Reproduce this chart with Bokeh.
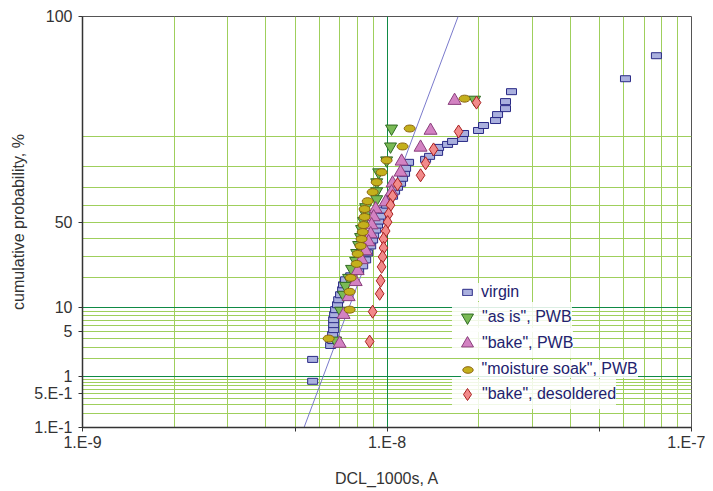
from statistics import NormalDist
from bokeh.plotting import figure
from bokeh.models import Range1d, FixedTicker, Grid, Legend, LegendItem
from bokeh.embed import file_html
from bokeh.resources import INLINE

# ---------------- data (x in nA, y in cumulative %) ----------------
virgin_nA = [5.70, 5.70, 6.53, 6.63, 6.63, 6.68, 6.68, 6.68, 6.73, 6.78, 6.88, 6.94, 7.04, 7.15,
             7.20, 7.31, 7.60, 8.07, 8.32, 8.51, 8.64, 8.84, 8.97, 9.04, 9.18, 9.31, 9.39, 9.53,
             9.74, 9.97, 10.12, 10.43, 10.59, 10.83, 11.08, 11.25, 11.42, 11.51, 11.77, 13.39,
             13.80, 14.66, 14.77, 15.81, 16.42, 17.71, 17.84, 19.98, 20.75, 22.72, 23.07, 24.50,
             24.50, 25.64, 60.7, 76.7]
virgin_pct = [0.83, 1.94, 3.17, 3.73, 4.52, 5.28, 6.14, 7.10, 8.18, 9.37, 10.68, 12.12, 13.70, 15.41,
              17.25, 19.23, 20.91, 23.13, 25.47, 28.43, 32.09, 35.93, 39.33, 42.24, 45.19, 48.16, 50.55, 53.53,
              57.08, 60.00, 62.29, 65.10, 67.83, 69.94, 72.00, 74.45, 76.80, 79.02, 81.52, 82.69,
              83.82, 85.24, 86.90, 87.83, 88.71, 89.55, 90.84, 91.56, 92.66, 93.65, 94.69, 95.59,
              96.49, 97.50, 98.44, 99.38]

asis_nA = [19.39, 10.35, 10.27, 9.97, 9.39, 9.25, 9.25, 9.25, 8.51, 8.51, 8.38, 8.25, 8.19, 8.07,
           7.95, 7.89, 7.65, 7.48, 7.31, 7.20, 7.04, 6.78]
asis_pct = [96.71, 92.01, 87.21, 82.30, 77.26, 72.50, 67.83, 63.43, 58.84, 54.72, 50.55, 45.78, 41.07, 36.49,
            32.09, 27.93, 24.05, 20.06, 16.87, 13.70, 9.12, 3.73]

bake_nA = [16.67, 13.90, 12.89, 11.17, 11.08, 10.43, 10.35, 9.90, 9.18, 9.04, 8.90, 8.84, 8.70, 8.51,
           8.25, 8.01, 7.89, 7.48, 7.20, 6.99]
bake_pct = [96.60, 91.56, 86.90, 81.91, 77.26, 72.00, 67.34, 61.78, 57.73, 53.00, 48.16, 42.83, 38.19, 33.17,
            28.43, 23.13, 18.42, 13.01, 8.18, 3.38]

moist_nA = [17.98, 11.87, 11.25, 9.97, 9.60, 9.25, 8.97, 8.64, 8.44, 8.44, 8.38, 8.32, 8.25, 8.19,
            8.01, 7.95, 7.60, 7.54, 7.54, 6.43]
moist_pct = [96.82, 92.01, 87.21, 82.30, 77.26, 72.50, 67.34, 62.29, 57.73, 53.00, 48.16, 44.00, 39.91, 35.93,
             31.56, 26.44, 20.06, 14.71, 9.37, 3.98]

desold_nA = [19.68, 17.18, 14.22, 13.39, 12.89, 10.83, 10.43, 10.27, 10.12, 10.05, 9.90, 9.74, 9.74, 9.67,
             9.60, 9.53, 9.46, 8.97, 8.77]
desold_pct = [96.37, 91.33, 86.25, 81.12, 75.88, 71.49, 65.10, 60.00, 54.72, 49.96, 44.59, 39.91, 34.81, 29.98,
              24.99, 18.82, 14.03, 8.87, 3.61]

# lognormal fit line (end points)
fit_nA = [5.34, 17.12]
fit_pct = [0.1, 99.9]

x_tick_values = [1e-9, 5e-9, 1e-8, 5e-8, 1e-7]
x_tick_labels = ["1.E-9", "", "1.E-8", "", "1.E-7"]
x_grid_minor = [2e-9, 3e-9, 4e-9, 5e-9, 6e-9, 7e-9, 8e-9, 9e-9,
                2e-8, 3e-8, 4e-8, 5e-8, 6e-8, 7e-8, 8e-8, 9e-8]
x_grid_major = [1e-8]

y_tick_pct = [0.1, 0.5, 1, 5, 10, 50, 99.9]
y_tick_labels = ["1.E-1", "5.E-1", "1", "5", "10", "50", "100"]
y_grid_minor_pct = [0.2, 0.3, 0.4, 0.5, 0.6, 0.7, 0.8, 0.9,
                    2, 3, 4, 5, 6, 7, 8, 9,
                    20, 30, 40, 50, 60, 70, 80, 90]
y_grid_major_pct = [1, 10]
y_limits_pct = [0.1, 99.9]

# ---------------- helpers ----------------
nd = NormalDist()
def probit(pcts):
    return [nd.inv_cdf(v / 100.0) for v in pcts]

def amps(nA):
    return [v * 1e-9 for v in nA]

FONT = "Liberation Sans"
LIGHT = "#9fcf5c"
DARK = "#0f8a45"

ylo, yhi = probit(y_limits_pct)
p = figure(width=705, height=489, x_axis_type="log",
           x_range=Range1d(1e-9, 1e-7),
           y_range=Range1d(ylo - 1e-9, yhi + 1e-9),
           output_backend="svg", toolbar_location=None,
           min_border_left=82, min_border_right=14, min_border_top=16, min_border_bottom=60)
p.background_fill_color = "white"
p.outline_line_color = "#555555"
p.outline_line_width = 1
p.xgrid.visible = False
p.ygrid.visible = False

# grids
p.add_layout(Grid(dimension=0, ticker=FixedTicker(ticks=x_grid_minor), grid_line_color=LIGHT, grid_line_width=1))
p.add_layout(Grid(dimension=1, ticker=FixedTicker(ticks=probit(y_grid_minor_pct)), grid_line_color=LIGHT, grid_line_width=1))
p.add_layout(Grid(dimension=0, ticker=FixedTicker(ticks=x_grid_major), grid_line_color=DARK, grid_line_width=1))
p.add_layout(Grid(dimension=1, ticker=FixedTicker(ticks=probit(y_grid_major_pct)), grid_line_color=DARK, grid_line_width=1))

# axes
xa = p.xaxis[0]
xa.ticker = FixedTicker(ticks=x_tick_values)
xa.major_label_overrides = {v: l for v, l in zip(x_tick_values, x_tick_labels)}
xa.minor_tick_line_color = None
xa.major_tick_out = 4
xa.major_tick_in = 0
xa.major_label_standoff = 2
xa.axis_label = "DCL_1000s, A"
xa.axis_label_standoff = 16
ya = p.yaxis[0]
yt = probit(y_tick_pct)
ya.ticker = FixedTicker(ticks=yt)
ya.major_label_overrides = {v: l for v, l in zip(yt, y_tick_labels)}
ya.minor_tick_line_color = None
ya.major_tick_out = 4
ya.major_tick_in = 0
ya.major_label_standoff = 6
ya.axis_label = "cumulative probability, %"
ya.axis_label_standoff = 4
for ax in (xa, ya):
    ax.axis_line_color = "#333333"
    ax.axis_line_width = 1.5
    ax.major_tick_line_color = "#333333"
    ax.major_label_text_font = FONT
    ax.major_label_text_font_size = "16px"
    ax.major_label_text_color = "#333333"
    ax.axis_label_text_font = FONT
    ax.axis_label_text_font_size = "16px"
    ax.axis_label_text_font_style = "normal"
    ax.axis_label_text_color = "#333333"

# fit line
p.line(amps(fit_nA), probit(fit_pct), line_color="#7a7acc", line_width=1)

# series
r_v = p.rect(x=amps(virgin_nA), y=probit(virgin_pct), width=10, height=6,
             width_units="screen", height_units="screen",
             fill_color="#aab0de", line_color="#2a2a86", line_width=1)
r_a = p.scatter(x=amps(asis_nA), y=probit(asis_pct), marker="inverted_triangle", size=12,
                fill_color="#7aba55", line_color="#2e6a22", line_width=1)
r_b = p.scatter(x=amps(bake_nA), y=probit(bake_pct), marker="triangle", size=13,
                fill_color="#d382c2", line_color="#8a3f7c", line_width=1)
r_m = p.ellipse(x=amps(moist_nA), y=probit(moist_pct), width=11, height=7,
                width_units="screen", height_units="screen",
                fill_color="#c4b01c", line_color="#8a6410", line_width=1)
r_d = p.scatter(x=amps(desold_nA), y=probit(desold_pct), marker="diamond", size=13,
                fill_color="#f28a8a", line_color="#a82020", line_width=1)

# legends (one per entry so each symbol keeps its own size)
FRAME_LEFT = 82
FRAME_BOTTOM = 429
GLYPH_CX = 467
TEXT_X = 481
rows = [
    ("virgin", r_v, 12, 8, 293),
    ('"as is", PWB', r_a, 30, 30, 318.5),
    ('"bake", PWB', r_b, 30, 30, 344.5),
    ('"moisture soak", PWB', r_m, 13, 13, 370.5),
    ('"bake", desoldered', r_d, 30, 30, 396),
]
for label, r, gw, gh, cy in rows:
    h = max(gh, 19)
    lx = GLYPH_CX - gw / 2 - FRAME_LEFT
    vy = FRAME_BOTTOM - cy - h / 2
    leg = Legend(items=[LegendItem(label=label, renderers=[r])],
                 location=(lx, vy), glyph_width=gw, glyph_height=gh, label_height=gh,
                 label_standoff=int(round(TEXT_X - GLYPH_CX - gw / 2)),
                 padding=0, margin=0, spacing=0, border_line_color=None,
                 background_fill_color="white", background_fill_alpha=0.85,
                 label_text_font=FONT, label_text_font_size="16px", label_text_color="#22226e")
    p.add_layout(leg)

open("out.html", "w").write(file_html(p, INLINE))
